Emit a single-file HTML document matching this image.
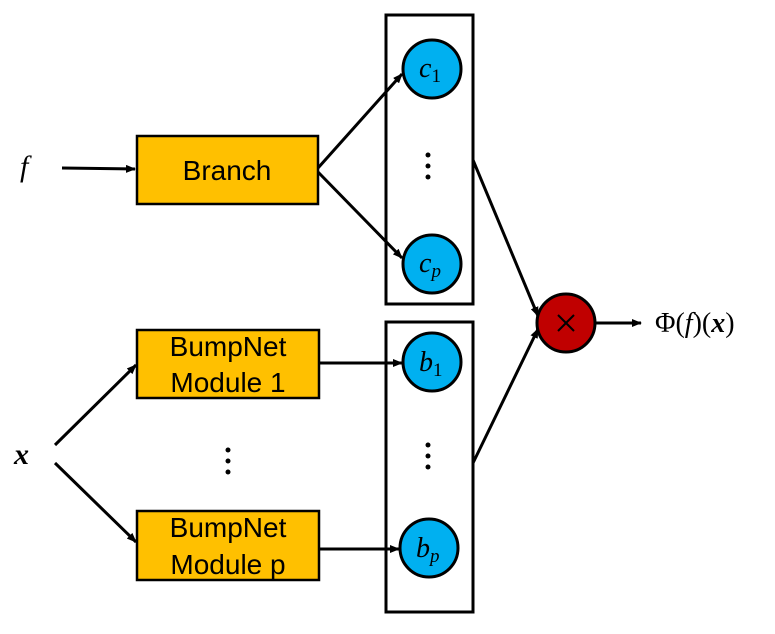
<!DOCTYPE html>
<html><head><style>
html,body{margin:0;padding:0;background:#fff;}
svg text{font-family:"Liberation Sans",sans-serif;}
svg .m text{font-family:"Liberation Serif",serif;font-style:italic;}
</style></head><body>
<svg width="775" height="629" viewBox="0 0 775 629" xmlns="http://www.w3.org/2000/svg">
<defs><marker id="a" markerWidth="10" markerHeight="8" refX="9" refY="4" orient="auto" markerUnits="userSpaceOnUse"><path d="M0,0 L10,4 L0,8 Z" fill="#000"/></marker></defs>
<g stroke="#000" stroke-width="3" fill="none">
<rect x="386" y="15" width="87" height="289"/>
<rect x="386" y="322" width="87" height="290"/>
<line x1="62" y1="168" x2="135" y2="169" marker-end="url(#a)"/>
<line x1="318" y1="168" x2="402" y2="74" marker-end="url(#a)"/>
<line x1="318" y1="172" x2="402" y2="258" marker-end="url(#a)"/>
<line x1="55" y1="445" x2="136" y2="365" marker-end="url(#a)"/>
<line x1="55" y1="463" x2="136" y2="542" marker-end="url(#a)"/>
<line x1="319" y1="363" x2="402" y2="363" marker-end="url(#a)"/>
<line x1="319" y1="549" x2="399" y2="549" marker-end="url(#a)"/>
<line x1="473" y1="160" x2="538" y2="316" marker-end="url(#a)"/>
<line x1="473" y1="463" x2="538" y2="329" marker-end="url(#a)"/>
<line x1="596" y1="323" x2="641" y2="323" marker-end="url(#a)"/>
</g>
<g stroke="#000" stroke-width="2.5" fill="#ffc000">
<rect x="137" y="136" width="181" height="68"/>
<rect x="137" y="330" width="182" height="68"/>
<rect x="137" y="511" width="182" height="69"/>
</g>
<g stroke="#000" stroke-width="3" fill="#00b0f0">
<circle cx="432" cy="69" r="29"/>
<circle cx="432" cy="264" r="29"/>
<circle cx="432" cy="362" r="29"/>
<circle cx="429" cy="548" r="29"/>
</g>
<circle cx="566" cy="323" r="29" fill="#c00000" stroke="#000" stroke-width="3"/>
<g stroke="#000" stroke-width="2"><line x1="558" y1="315" x2="574" y2="331"/><line x1="574" y1="315" x2="558" y2="331"/></g>
<g fill="#000">
<circle cx="428" cy="155" r="2.5"/><circle cx="428" cy="166" r="2.5"/><circle cx="428" cy="177" r="2.5"/>
<circle cx="428" cy="445" r="2.5"/><circle cx="428" cy="456" r="2.5"/><circle cx="428" cy="467" r="2.5"/>
<circle cx="228" cy="450" r="2.5"/><circle cx="228" cy="461" r="2.5"/><circle cx="228" cy="472" r="2.5"/>
</g>
<g font-size="28" text-anchor="middle" fill="#000">
<text x="227" y="180">Branch</text>
<text x="228" y="356">BumpNet</text>
<text x="228" y="392">Module 1</text>
<text x="228" y="537">BumpNet</text>
<text x="228" y="574">Module p</text>
</g>
<g class="m" fill="#000">
<text x="20" y="176" font-size="30">f</text>
<text x="14" y="464" font-size="30" font-weight="bold">x</text>
<text x="419" y="77" font-size="28">c<tspan font-style="normal" font-size="19" dy="5">1</tspan></text>
<text x="419" y="272" font-size="28">c<tspan font-size="19" dy="5">p</tspan></text>
<text x="419" y="371" font-size="28">b<tspan font-style="normal" font-size="19" dy="5">1</tspan></text>
<text x="416" y="557" font-size="28">b<tspan font-size="19" dy="5">p</tspan></text>
<text x="655" y="332" font-size="28"><tspan font-style="normal">Φ(</tspan>f<tspan font-style="normal">)(</tspan><tspan font-weight="bold">x</tspan><tspan font-style="normal">)</tspan></text>
</g>
</svg>
</body></html>
